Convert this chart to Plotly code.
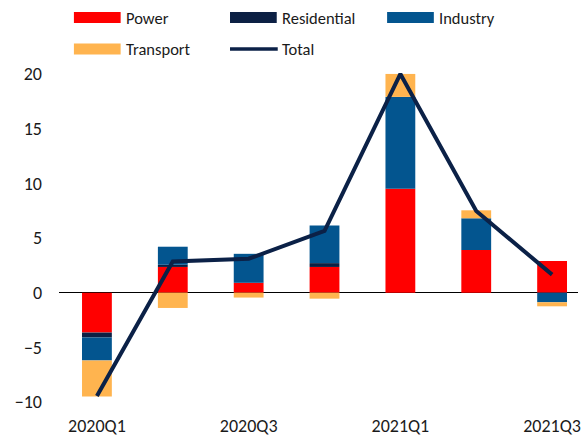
import plotly.graph_objects as go

# Quarterly contributions by sector and the overall total
quarters = ["2020Q1", "2020Q2", "2020Q3", "2020Q4", "2021Q1", "2021Q2", "2021Q3"]
power = [-3.65, 2.35, 0.9, 2.35, 9.5, 3.9, 2.9]
residential = [-0.45, 0.2, 0.0, 0.35, 0.0, 0.0, 0.0]
industry = [-2.1, 1.65, 2.65, 3.45, 8.4, 2.9, -0.88]
transport = [-3.3, -1.4, -0.45, -0.55, 2.1, 0.73, -0.37]
total = [-9.45, 2.85, 3.1, 5.65, 20.0, 7.46, 1.65]
tick_labels = ["2020Q1", "", "2020Q3", "", "2021Q1", "", "2021Q3"]

sectors = [
    ("Power", power, "#FF0000"),
    ("Residential", residential, "#0C2044"),
    ("Industry", industry, "#03558F"),
    ("Transport", transport, "#FFB44F"),
]
line_color = "#0B2147"
font_family = "Carlito, Calibri, Lato, sans-serif"

W, H = 581, 437
ML, MR, MT, MB = 59, 0, 63, 35

fig = go.Figure()
for name, vals, col in sectors:
    fig.add_trace(go.Bar(
        x=list(range(len(quarters))), y=vals, name=name,
        marker=dict(color=col, line=dict(width=0)),
        showlegend=False,
    ))
fig.add_trace(go.Scatter(
    x=list(range(len(quarters))), y=total, name="Total", mode="lines",
    line=dict(color=line_color, width=4), showlegend=False,
))

# Legend drawn as wide swatches with labels (pixel positions -> paper coords)
pw, ph = W - ML - MR, H - MT - MB


def px_x(px):
    return (px - ML) / pw


def px_y(py):
    return (H - MB - py) / ph


legend_items = [
    ("Power", "#FF0000", "bar", 74, 17.5),
    ("Residential", "#0C2044", "bar", 231, 17.5),
    ("Industry", "#03558F", "bar", 389, 17.5),
    ("Transport", "#FFB44F", "bar", 74, 49),
    ("Total", line_color, "line", 231, 49),
]
shapes = []
annotations = []
for label, col, kind, x0, yc in legend_items:
    if kind == "bar":
        shapes.append(dict(type="rect", xref="paper", yref="paper",
                           x0=px_x(x0), x1=px_x(x0 + 47),
                           y0=px_y(yc + 5.5), y1=px_y(yc - 5.5),
                           fillcolor=col, line=dict(width=0)))
    else:
        shapes.append(dict(type="line", xref="paper", yref="paper",
                           x0=px_x(x0), x1=px_x(x0 + 48),
                           y0=px_y(yc), y1=px_y(yc),
                           line=dict(color=col, width=3.5)))
    annotations.append(dict(xref="paper", yref="paper", x=px_x(x0 + 50), y=px_y(yc),
                            text=label, showarrow=False, xanchor="left", yanchor="middle",
                            font=dict(family=font_family, size=16.5, color="#1a1a1a")))

fig.update_layout(
    width=W, height=H,
    margin=dict(l=ML, r=MR, t=MT, b=MB),
    paper_bgcolor="white", plot_bgcolor="white",
    barmode="relative", bargap=0.607,
    font=dict(family=font_family, size=18, color="#1a1a1a"),
    shapes=shapes, annotations=annotations,
    showlegend=False,
)
fig.update_xaxes(
    range=[-0.5, -0.5 + pw / 76.3],
    tickmode="array", tickvals=list(range(len(quarters))), ticktext=tick_labels,
    showgrid=False, zeroline=False, showline=False, ticks="",
    tickfont=dict(size=18), ticklabelstandoff=11, ticklabeloverflow="allow",
)
fig.update_yaxes(
    range=[-10, 21], tickvals=[-10, -5, 0, 5, 10, 15, 20],
    showgrid=False, zeroline=True, zerolinecolor="#000000", zerolinewidth=1,
    showline=False, ticks="", ticklabelstandoff=16,
    tickfont=dict(size=18),
)

fig.write_html("out.html")
